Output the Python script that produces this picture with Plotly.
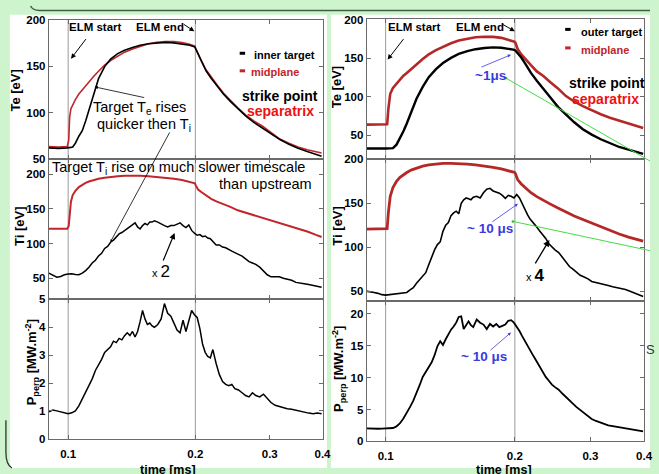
import math
import plotly.graph_objects as go

W, H = 659, 474
FONT = "Liberation Sans"

# ---------------- data ----------------
ELM_START = 0.1
ELM_END = 0.2

X_TICKS = [0.1, 0.2, 0.3, 0.4]
X_TICK_TEXT = ["0.1", "0.2", "0.3", "0.4"]
Y_TICKS_T = [50, 100, 150, 200]
Y_TICKS_P_IN = [0, 1, 2, 3, 4, 5]
Y_TICKS_P_OUT = [0, 5, 10, 15, 20]

T_SMOOTH = [0.090, 0.095, 0.0995, 0.1003, 0.1008, 0.1015, 0.1025, 0.104, 0.106, 0.108,
            0.110, 0.112, 0.115, 0.118, 0.122, 0.126, 0.131, 0.136, 0.142, 0.148,
            0.155, 0.162, 0.170, 0.178, 0.186, 0.194, 0.1995, 0.2005, 0.203, 0.207,
            0.212, 0.218, 0.225, 0.233, 0.242, 0.252, 0.263, 0.275, 0.288, 0.302,
            0.317, 0.333, 0.350, 0.368, 0.386, 0.398]

T_FINE = [0.090, 0.092, 0.094, 0.096, 0.098, 0.100, 0.102, 0.104, 0.106, 0.108,
          0.110, 0.112, 0.114, 0.116, 0.118, 0.120, 0.122, 0.124, 0.126, 0.128,
          0.130, 0.132, 0.134, 0.136, 0.138, 0.140, 0.142, 0.144, 0.146, 0.148,
          0.150, 0.152, 0.154, 0.156, 0.158, 0.160, 0.163, 0.166, 0.169, 0.172,
          0.175, 0.178, 0.181, 0.184, 0.187, 0.190, 0.193, 0.196, 0.199, 0.202,
          0.205, 0.208, 0.211, 0.214, 0.217, 0.220, 0.224, 0.228, 0.232, 0.236,
          0.240, 0.244, 0.248, 0.253, 0.258, 0.263, 0.268, 0.273, 0.278, 0.284,
          0.290, 0.296, 0.302, 0.309, 0.316, 0.323, 0.330, 0.338, 0.346, 0.354,
          0.362, 0.371, 0.380, 0.389, 0.398]

# inner target panel (left)
TE_MID_IN = [63.5, 63, 63.5, 70, 95, 104, 108, 114, 120, 124.5,
             128.5, 132.5, 139, 144.5, 151, 156, 161, 165, 168.5, 171.5,
             174, 175.5, 176.5, 176.5, 175.5, 173.5, 171.5, 169, 163, 155,
             146, 138, 130, 121, 113, 105, 97.5, 91, 85.5, 79,
             71.5, 67, 63, 60, 57.5, 56.5]
TE_TGT_IN = [62, 61.5, 62, 62, 62, 62.5, 63, 67, 74.5, 80.5,
             91, 103, 122, 136.5, 149.5, 157.5, 163.5, 167, 170, 172.5,
             174, 175, 175.5, 175, 174, 172.5, 170.5, 168.5, 162, 154,
             145, 137, 129, 120, 112, 104, 96.5, 89.5, 83.5, 77,
             71, 66, 61.5, 58, 55, 53]
TI_MID_IN = [121.5, 121.5, 121.5, 125, 145, 160, 170, 176, 181.5, 185,
             187.5, 189.5, 192, 193.5, 195, 196.2, 197.2, 197.8, 198, 197.8,
             197, 196, 194.8, 193.4, 191.8, 189.5, 187, 184, 178, 174,
             169.5, 164.5, 160.5, 157, 153, 148, 144.5, 141, 137.5, 134,
             130, 126, 122, 117.5, 112.5, 109.5]
TI_TGT_IN = [57.5, 54, 51.5, 52.5, 55, 56, 56.5, 55.5, 55, 57.5,
             61, 66, 72, 76, 82, 86, 93, 96, 102, 105,
             110, 114, 116, 119, 122, 125, 128, 130, 124, 121,
             126, 129, 127, 131, 131, 133, 131, 128, 126, 124,
             126, 126, 128, 130, 126, 123, 127, 119, 115, 112,
             113, 110, 111, 108, 107, 103, 98, 98, 95, 94,
             91, 89, 87, 85, 82, 78, 74, 72, 70, 66,
             61, 55, 52, 51.5, 52, 50, 49, 47, 44, 42.5,
             42, 41, 40, 38.5, 37]
P_IN = [0.97, 1.03, 1.0, 0.96, 0.92, 0.90, 0.93, 1.0, 1.18, 1.42,
        1.68, 1.9, 2.15, 2.45, 2.65, 2.85, 3.1, 3.2, 3.3, 3.5,
        3.45, 3.6, 3.55, 3.7, 3.8, 3.7, 3.85, 3.65, 3.85, 4.2,
        4.6, 4.3, 4.1, 4.15, 4.05, 4.0, 4.1, 4.3, 4.85, 4.5,
        4.4, 4.15, 3.9, 3.8, 4.25, 3.85, 4.2, 4.6, 4.45, 4.35,
        3.95, 3.4, 3.1, 2.95, 2.9, 3.2, 2.7, 2.3, 2.05, 1.95,
        1.9, 1.95, 1.8, 1.75, 1.65, 1.55, 1.5, 1.65, 1.55, 1.5,
        1.6, 1.45, 1.3, 1.2, 1.15, 1.12, 1.08, 1.06, 1.02, 1.0,
        0.96, 0.92, 0.9, 0.92, 0.9]

# outer target panel (right)
TE_MID_OUT = [64, 64, 64, 64, 64.5, 85, 104, 111.5, 117, 122,
              127.5, 131, 137, 142, 149, 155, 160.5, 165, 169.5, 173,
              175.5, 177.3, 178, 177.8, 176.5, 174, 171.5, 170.5, 162, 155,
              148, 141, 133, 127, 119, 111, 101, 94, 88, 82.5,
              77.5, 73, 69.5, 65.5, 62, 59.5]
TE_TGT_OUT = [33, 33.5, 33, 33, 33, 33, 33, 33.5, 38, 46,
              55.5, 65.5, 83, 97.5, 113, 125.5, 136, 143.8, 150.5, 155.6,
              159.3, 161.8, 163.3, 164.1, 163.6, 162.2, 161, 160, 157, 151,
              142, 131, 121, 110, 99, 87, 77, 67, 58, 51,
              45, 39.5, 35, 31.5, 28.5, 26]
TI_MID_OUT = [120.5, 120.5, 120.5, 120.5, 121, 140, 158, 168, 175, 179.5,
              182.5, 185, 188, 190, 192.3, 193.7, 194.8, 195.3, 195.4, 195.2,
              194.6, 193.7, 192.4, 190.9, 189, 187, 185.2, 184, 177, 172,
              167, 162, 157.5, 153, 149, 144.5, 140, 135.5, 131.5, 127.5,
              123, 119, 115, 111.5, 108.5, 107]
TI_TGT_OUT = [50, 49.5, 48.5, 47.5, 46, 45.5, 46, 46.5, 47, 47.5,
              48, 48.5, 51.5, 54, 59, 63, 66, 71, 80, 89,
              97, 103, 106, 118, 125, 128, 136, 139, 141, 138,
              150, 154, 156, 155, 154, 157, 158, 156, 162, 166,
              167, 164, 163, 161.5, 159, 155.5, 159, 158, 156, 160,
              156, 149, 144, 137, 132, 129, 124, 119, 115, 110,
              104, 100, 97, 94, 89, 83, 78, 75, 72, 68,
              66, 64, 61, 60, 58.5, 57.5, 56.5, 55, 54, 53,
              52, 50, 48, 46, 44]
P_OUT = [2.05, 2.0, 2.02, 1.98, 2.0, 2.05, 2.0, 2.1, 2.35, 2.85,
         3.6, 4.4, 5.4, 6.4, 7.5, 8.8, 10.1, 10.9, 11.6, 12.4,
         13.5, 14.9, 15.7, 15.1, 16.0, 16.8, 17.5, 18.0, 18.6, 19.5,
         19.6, 17.6, 18.3, 18.8, 18.2, 17.9, 19.1, 18.6, 18.3, 17.6,
         18.4, 18.0, 18.4, 17.9, 18.1, 18.3, 18.9, 19.0, 18.6, 18.0,
         17.3, 16.5, 15.7, 15.0, 14.3, 13.6, 12.7, 11.8, 10.9, 10.1,
         9.5, 8.9, 8.5, 8.1, 7.5, 7.0, 6.4, 5.9, 5.4, 4.9,
         4.4, 3.9, 3.5, 3.2, 2.95, 2.7, 2.5, 2.4, 2.3, 2.15,
         2.0, 1.9, 1.8, 1.7, 1.55]

# ---------------- layout helpers ----------------
RED = "#c0262a"
AXC = "#6a6a6a"
GREEN_BG = "#cdf4cd"


def px_x(x):
    return x / W


def px_y(y):
    return 1 - y / H


# (x-left px, x-right px, top px, bottom px, y-range, y-ticks, x-range lo, show x labels)
PANELS = [
    (49.5, 327.0, 14.0, 157.0, [50, 200], Y_TICKS_T, 0.0900, False),
    (49.5, 327.0, 157.0, 301.0, [19.5, 222], Y_TICKS_T, 0.0900, False),
    (49.5, 327.0, 301.0, 444.0, [0, 5], Y_TICKS_P_IN, 0.0900, True),
    (371.7, 653.0, 13.3, 157.3, [19, 201], Y_TICKS_T, 0.0903, False),
    (371.7, 653.0, 157.3, 302.3, [39.2, 200], Y_TICKS_T, 0.0903, False),
    (371.7, 653.0, 302.3, 446.7, [0, 22.05], Y_TICKS_P_OUT, 0.0903, True),
]

fig = go.Figure()
layout = dict(
    width=W, height=H, margin=dict(l=0, r=0, t=0, b=0),
    paper_bgcolor=GREEN_BG, plot_bgcolor="white", showlegend=False,
    font=dict(family=FONT, color="black"),
)

for i, (xl, xr, yt, yb, yr, yt_vals, xlo, showx) in enumerate(PANELS, start=1):
    layout[f"xaxis{i}"] = dict(
        type="log", domain=[px_x(xl), px_x(xr)],
        range=[math.log10(xlo), math.log10(0.4)],
        anchor=f"y{i}", showline=True, linecolor=AXC, linewidth=1, mirror="all",
        ticks="inside", ticklen=4, tickcolor=AXC, tickvals=X_TICKS, ticktext=X_TICK_TEXT,
        showticklabels=showx, showgrid=False, zeroline=False, ticklabelstandoff=4,
        tickfont=dict(family=FONT, size=11.5, color="black", weight="bold"),
    )
    layout[f"yaxis{i}"] = dict(
        domain=[px_y(yb), px_y(yt)], range=yr, anchor=f"x{i}",
        showline=True, linecolor=AXC, linewidth=1, mirror="all",
        ticks="inside", ticklen=4, tickcolor=AXC, tickvals=yt_vals,
        showgrid=False, zeroline=False,
        tickfont=dict(family=FONT, size=11.5, color="black", weight="bold"),
    )
    for tv in (ELM_START, ELM_END):
        fig.add_trace(go.Scatter(x=[tv, tv], y=yr, mode="lines",
                                 line=dict(color="#9a9a9a", width=1),
                                 xaxis=f"x{i}", yaxis=f"y{i}", hoverinfo="skip"))


def add_line(x, y, idx, color, width):
    fig.add_trace(go.Scatter(x=x, y=y, mode="lines", line=dict(color=color, width=width),
                             xaxis=f"x{idx}", yaxis=f"y{idx}"))


add_line(T_SMOOTH, TE_MID_IN, 1, RED, 1.6)
add_line(T_SMOOTH, TE_TGT_IN, 1, "black", 1.6)
add_line(T_SMOOTH, TI_MID_IN, 2, RED, 2.0)
add_line(T_FINE, TI_TGT_IN, 2, "black", 1.5)
add_line(T_FINE, P_IN, 3, "black", 1.5)
add_line(T_SMOOTH, TE_MID_OUT, 4, "#b52828", 2.6)
add_line(T_SMOOTH, TE_TGT_OUT, 4, "black", 2.4)
add_line(T_SMOOTH, TI_MID_OUT, 5, "#b52828", 2.8)
add_line(T_FINE, TI_TGT_OUT, 5, "black", 1.6)
add_line(T_FINE, P_OUT, 6, "black", 1.8)

# ---------------- decorations ----------------
shapes = []


def rect(x0, y0, x1, y1, color):
    shapes.append(dict(type="rect", xref="paper", yref="paper", layer="below",
                       x0=px_x(x0), x1=px_x(x1), y0=px_y(y1), y1=px_y(y0),
                       fillcolor=color, line=dict(width=0)))


def seg(x0, y0, x1, y1, color, width):
    shapes.append(dict(type="line", xref="paper", yref="paper",
                       x0=px_x(x0), y0=px_y(y0), x1=px_x(x1), y1=px_y(y1),
                       line=dict(color=color, width=width)))


def dot(x, y, r, color):
    shapes.append(dict(type="circle", xref="paper", yref="paper",
                       x0=px_x(x - r), x1=px_x(x + r), y0=px_y(y + r), y1=px_y(y - r),
                       fillcolor=color, line=dict(width=0)))


rect(10, 9, 331.5, 474, "white")
rect(335.5, 9, 659, 474, "white")
# slide frame fragments
shapes.append(dict(type="path", xref="paper", yref="paper",
                   path=f"M {px_x(31)},{px_y(0)} Q {px_x(33)},{px_y(4.5)} {px_x(40)},{px_y(4.5)} L {px_x(659)},{px_y(4.5)}",
                   line=dict(color="#3f5f3f", width=1.5)))
shapes.append(dict(type="path", xref="paper", yref="paper",
                   path=f"M {px_x(6)},{px_y(425)} L {px_x(6)},{px_y(458)} Q {px_x(6)},{px_y(470)} {px_x(12)},{px_y(474)}",
                   line=dict(color="#333333", width=1.3)))
# legend dashes
seg(243, 48.5, 248.5, 48.5, "black", 3)
seg(243, 66.5, 248.5, 66.5, RED, 3)
seg(573, 24, 578.5, 24, "black", 3)
seg(573, 43, 578.5, 43, RED, 3)
# green pointer lines running off to the right
seg(513, 74, 659, 159, "#44dd44", 1)
seg(520, 221, 659, 251, "#44dd44", 1)
dot(513, 74, 1.3, "#33bb33")
dot(520, 221, 1.3, "#33bb33")

ann = []


def txt(x, y, s, size=12, color="black", bold=False, xanchor="center", angle=0):
    ann.append(dict(x=px_x(x), y=px_y(y), xref="paper", yref="paper", text=s,
                    showarrow=False, xanchor=xanchor, yanchor="middle", textangle=angle,
                    font=dict(family=FONT, size=size, color=color,
                              weight="bold" if bold else "normal")))


def arrow(x0, y0, x1, y1, color="black", width=1, head=2, size=1.0):
    ann.append(dict(x=px_x(x1), y=px_y(y1), xref="paper", yref="paper",
                    ax=x0 - x1, ay=y0 - y1, axref="pixel", ayref="pixel", text="",
                    showarrow=True, arrowhead=head, arrowsize=size, arrowwidth=width,
                    arrowcolor=color, standoff=0, startstandoff=0))


# axis titles
txt(16, 87, "Te [eV]", 13, bold=True, angle=-90)
txt(20, 226, "Ti [eV]", 13, bold=True, angle=-90)
txt(32, 366, "P<sub>perp</sub> [MW.m<sup>-2</sup>]", 13, bold=True, angle=-90)
txt(342, 83, "Te [eV]", 13, bold=True, angle=-90)
txt(342, 225, "Ti [eV]", 13, bold=True, angle=-90)
txt(343, 372, "P<sub>perp</sub> [MW.m<sup>-2</sup>]", 13, bold=True, angle=-90)
txt(170, 476, "time [ms]", 12.5, bold=True)
txt(511, 476, "time [ms]", 12.5, bold=True)

# left panel labels
txt(97, 22, "ELM start", 11.5, bold=True)
txt(162, 22, "ELM end", 11.5, bold=True)
arrow(88, 33, 72, 54, width=1, head=2, size=1)
arrow(185, 18, 197, 26, width=1, head=2, size=1)
txt(255, 50, "inner target", 11, bold=True, xanchor="left")
txt(252, 68, "midplane", 11, color=RED, bold=True, xanchor="left")
txt(284, 92, "strike point", 14, bold=True)
txt(284, 108, "separatrix", 14, color="#ee1111", bold=True)
txt(141, 105, "Target T<sub>e</sub> rises", 14.5)
txt(146, 122, "quicker then T<sub>i</sub>", 14.5)
arrow(147, 94, 96, 83, width=0.8, head=2, size=0.8)
arrow(172, 131, 112, 242, width=0.8, head=2, size=0.6)
txt(181, 166, "Target T<sub>i</sub> rise on much slower timescale", 14.5)
txt(269, 183, "than upstream", 14.5)
txt(163, 272, "x <span style='font-size:17px'>2</span>", 11)
arrow(165, 262, 177, 233, width=1.2, head=2, size=1)

# right panel labels
txt(420, 22, "ELM start", 11.5, bold=True)
txt(486.5, 22, "ELM end", 11.5, bold=True)
arrow(410, 33, 393, 55, width=1, head=2, size=1)
arrow(508, 18, 522, 26, width=1, head=2, size=1)
txt(587, 27, "outer target", 11, bold=True, xanchor="left")
txt(587, 45, "midplane", 11, color=RED, bold=True, xanchor="left")
txt(615, 79, "strike point", 14, bold=True)
txt(614, 95, "separatrix", 14, color="#ee1111", bold=True)
txt(497.5, 71, "~1μs", 13.5, color="#3a3ae0", bold=True)
arrow(487, 63, 518, 50, color="#3a3ae0", width=0.8, head=2, size=0.8)
txt(497, 228, "~ 10 μs", 13.5, color="#3a3ae0", bold=True)
arrow(498, 222, 525, 203, color="#3a3ae0", width=0.8, head=2, size=0.8)
txt(490.5, 360, "~ 10 μs", 13.5, color="#3a3ae0", bold=True)
arrow(496, 354, 518, 335, color="#3a3ae0", width=0.8, head=2, size=0.8)
txt(543, 277, "x <span style='font-size:17px'><b>4</b></span>", 11)
arrow(542, 265, 557, 240, width=1.3, head=2, size=1)
txt(653, 352, "S", 13, color="#333333", xanchor="left")

layout["shapes"] = shapes
layout["annotations"] = ann
fig.update_layout(**layout)
fig.write_html(
    "out.html",
    config={"displayModeBar": False},
    post_script="document.body.style.margin='0';document.body.style.overflow='hidden';",
)
